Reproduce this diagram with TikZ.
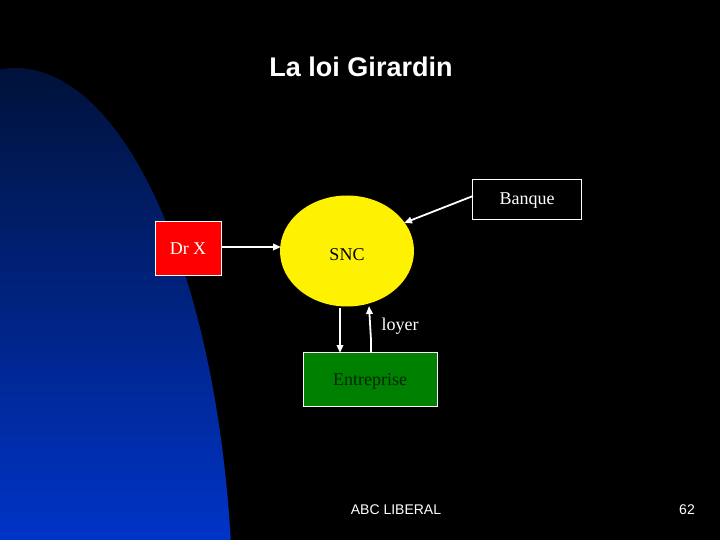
\documentclass[tikz,border=0pt]{standalone}
\usepackage{fontspec}
\setmainfont{Liberation Serif}
\newfontfamily\arialf{Liberation Sans}
\usetikzlibrary{arrows.meta,shapes.geometric}
\definecolor{bgtop}{RGB}{0,18,58}
\definecolor{bgbot}{RGB}{0,52,200}
\definecolor{entgreen}{RGB}{0,128,0}
\begin{document}
\begin{tikzpicture}[x=1pt,y=-1pt,
  conn/.style={draw=white,line width=1.8pt,-{Triangle[length=8pt,width=6.5pt]}},
  boxst/.style={draw=white,line width=0.8pt,minimum width=#1,inner sep=0pt},
  lbl/.style={font=\fontsize{18}{20}\selectfont}]
\useasboundingbox[fill=black] (0,0) rectangle (720,540);
% blue background shape
\begin{scope}
\clip (15,620) ellipse [x radius=218, y radius=552];
\shade[top color=bgtop, bottom color=bgbot] (0,68) rectangle (240,540);
\end{scope}
\node[font=\arialf\bfseries\fontsize{27}{30}\selectfont, text=white] (title) at (361,67) {La loi Girardin};
% nodes
\node[boxst=66pt, minimum height=54pt, fill=red, text=white, lbl] (drx) at (188,248) {};
\node[lbl, text=white] (drxt) at (188,249) {Dr X};
\node[ellipse, fill=yellow, minimum width=134pt, minimum height=111pt, inner sep=0pt] (snc) at (347,251) {};
\node[lbl, text=black] (snct) at (347,255) {SNC};
\node[boxst=109pt, minimum height=40pt, fill=black, text=white, lbl] (banque) at (527,199) {};
\node[lbl, text=white] (banquet) at (527,201) {Banque};
\node[boxst=134pt, minimum height=54pt, fill=entgreen, text=black!85!green, lbl] (entr) at (370,379) {};
\node[lbl, text=black!85!green] (entrt) at (370,381) {Entreprise};
\node[lbl, text=white, anchor=west] (loyer) at (378,326) {loyer};
% connectors
\coordinate (a1) at (281,247);
\draw[conn] (drx.east |- a1) -- (a1);
\coordinate (b1) at (473,196);
\coordinate (b2) at (404,223);
\draw[conn] (b1) -- (b2);
\coordinate (d1) at (340,308);
\coordinate (d2) at (340,353);
\draw[conn] (d1) -- (d2);
\coordinate (u1) at (371,352);
\coordinate (u2) at (369,306);
\draw[conn] (u1) -- (371,340) -- (u2);
% footer
\node[font=\arialf\fontsize{14}{16}\selectfont, text=white] (footer) at (396,510) {ABC LIBERAL};
\node[font=\arialf\fontsize{14}{16}\selectfont, text=white] (page) at (687,510) {62};
\end{tikzpicture}
\end{document}
